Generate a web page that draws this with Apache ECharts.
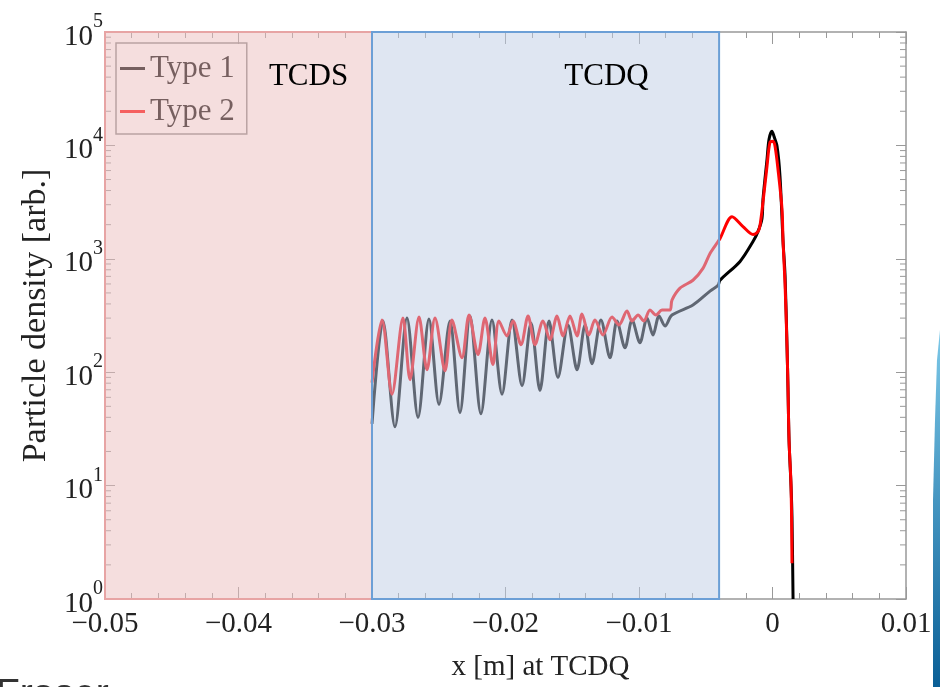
<!DOCTYPE html>
<html>
<head>
<meta charset="utf-8">
<script src="https://cdn.jsdelivr.net/npm/echarts@6/dist/echarts.min.js"></script>
<style>
  html, body { margin: 0; padding: 0; background: #fff; }
  #chart { width: 940px; height: 687px; }
</style>
</head>
<body>
<div id="chart"></div>
<script>
// Type 1 histogram (x in m, density in arb. units)
const type1X = [-0.0300, -0.02918, -0.02828, -0.02738, -0.02655, -0.02573, -0.02498, -0.02416, -0.02341, -0.02266,
  -0.02184, -0.02101, -0.02026, -0.01951, -0.01876, -0.01809, -0.01742, -0.01674, -0.01607, -0.01532,
  -0.01464, -0.01404, -0.01352, -0.01285, -0.01217, -0.01165, -0.01105, -0.01052, -0.00993, -0.00940,
  -0.00895, -0.00850, -0.00805, -0.00753, -0.00596, -0.00468, -0.00408, -0.00393, -0.00243, -0.00146,
  -0.00109, -0.00079, -0.00071, -0.00041, -0.00026, -0.00004, 0.00011, 0.00034, 0.00056, 0.00079,
  0.00094, 0.00109, 0.00116, 0.00124, 0.00139, 0.00146, 0.00154]
const type1Y = [35, 283, 33, 301, 40, 295, 52, 283, 44, 313,
  43, 289, 64, 289, 76, 272, 69, 283, 90, 261,
  105, 261, 119, 289, 134, 283, 164, 289, 182, 301,
  213, 313, 256, 319, 391, 519, 585, 647, 948, 1420,
  1738, 2258, 3380, 7568, 11330, 13310, 12040, 9840, 5375, 1420,
  716, 164, 73, 25, 9.8, 5.3, 1]

// Type 2 histogram
const type2X = [-0.0300, -0.02925, -0.02850, -0.02768, -0.02715, -0.02648, -0.02588, -0.02528, -0.02453, -0.02401,
  -0.02326, -0.02273, -0.02206, -0.02154, -0.02094, -0.02049, -0.01989, -0.01944, -0.01884, -0.01831,
  -0.01779, -0.01719, -0.01667, -0.01614, -0.01569, -0.01517, -0.01464, -0.01427, -0.01375, -0.01330,
  -0.01270, -0.01202, -0.01150, -0.01090, -0.01052, -0.01007, -0.00963, -0.00918, -0.00873, -0.00828,
  -0.00768, -0.00753, -0.00693, -0.00596, -0.00521, -0.00468, -0.00408, -0.00393, -0.00303, -0.00221,
  -0.00146, -0.00109, -0.00094, -0.00071, -0.00041, -0.00019, 0.00004, 0.00019, 0.00041, 0.00071,
  0.00079, 0.00094, 0.00109, 0.00116, 0.00124, 0.00139, 0.00146]
const type2Y = [81, 289, 64, 301, 86, 307, 105, 301, 103, 289,
  134, 319, 143, 301, 117, 283, 209, 283, 175, 313,
  175, 283, 193, 313, 209, 313, 209, 326, 213, 289,
  213, 307, 261, 346, 283, 319, 283, 353, 319, 353,
  353, 432, 551, 647, 824, 1114, 1420, 1510, 2350, 1922,
  1636, 1738, 1960, 3184, 6577, 10660, 10880, 9840, 6194, 2763,
  1420, 600, 164, 73, 25, 9.8, 2.07]

// collimator regions
const regionNames = ['TCDS', 'TCDQ']
const regionStart = [-0.05, -0.03]
const regionEnd = [-0.03, -0.004]

const xMin = -0.05, xMax = 0.01
const yMin = 1, yMax = 100000
const FONT = 'Liberation Serif'

const regionFill = ['rgba(235,189,189,0.5)', 'rgba(191,205,229,0.5)']
const regionBorder = ['#e7a4a4', '#6c9fd6']
const regionLabelOffset = [[70, 25], [61, 25]]

const pairs = (xs, ys) => xs.map((x, i) => [x, ys[i]])

// log minor ticks 2..9 in each decade (left and right frame)
const minorLogTicks = []
for (let d = 0; d < 5; d++) {
  for (let k = 2; k <= 9; k++) minorLogTicks.push([xMin, k * Math.pow(10, d)])
}

const chart = echarts.init(document.getElementById('chart'))

const frameAxisLine = { show: true, onZero: false, lineStyle: { color: '#999', width: 1.5 } }
const tickStyle = { color: '#999', width: 1 }

chart.setOption({
  animation: false,
  backgroundColor: '#fff',
  grid: { left: 105, right: 34, top: 32, bottom: 84 },
  legend: {
    data: ['Type 1', 'Type 2'],
    orient: 'vertical',
    left: 116,
    top: 43,
    padding: [10, 12, 7, 4],
    itemGap: 12,
    itemWidth: 25,
    itemHeight: 3,
    icon: 'rect',
    borderColor: '#888',
    borderWidth: 1.5,
    z: 4,
    textStyle: { fontFamily: FONT, fontSize: 31, color: '#000' }
  },
  xAxis: [
    {
      type: 'value',
      min: xMin,
      max: xMax,
      interval: 0.01,
      position: 'bottom',
      axisLine: frameAxisLine,
      axisTick: { inside: true, length: 12, lineStyle: tickStyle },
      minorTick: { show: true, splitNumber: 5, length: 6, lineStyle: tickStyle },
      splitLine: { show: false },
      axisLabel: {
        margin: 11,
        fontFamily: FONT,
        fontSize: 29,
        color: '#222',
        formatter: v => Math.abs(v) < 1e-9 ? '0' : (v < 0 ? '\u2212' : '') + Math.abs(v).toFixed(2)
      },
      name: 'x [m] at TCDQ',
      nameLocation: 'middle',
      nameGap: 54,
      nameTextStyle: { fontFamily: FONT, fontSize: 29, color: '#222', padding: [0, 0, 0, 70] }
    },
    {
      type: 'value',
      min: xMin,
      max: xMax,
      interval: 0.01,
      position: 'top',
      axisLine: frameAxisLine,
      axisTick: { inside: true, length: 12, lineStyle: tickStyle },
      minorTick: { show: true, splitNumber: 5, length: 6, lineStyle: tickStyle },
      splitLine: { show: false },
      axisLabel: { show: false }
    }
  ],
  yAxis: [
    {
      type: 'log',
      logBase: 10,
      min: yMin,
      max: yMax,
      position: 'left',
      axisLine: frameAxisLine,
      axisTick: { inside: true, length: 10, lineStyle: tickStyle },
      splitLine: { show: false },
      axisLabel: {
        margin: 2,
        padding: [10, 0, 0, 0],
        formatter: v => '{b|10}{s|' + Math.round(Math.log10(v)) + '}',
        rich: {
          b: { fontFamily: FONT, fontSize: 29, lineHeight: 29, color: '#222' },
          s: { fontFamily: FONT, fontSize: 20, lineHeight: 20, color: '#222', padding: [0, 0, 30, 0] }
        }
      },
      name: 'Particle density [arb.]',
      nameLocation: 'middle',
      nameGap: 52,
      nameTextStyle: { fontFamily: FONT, fontSize: 34, color: '#222' }
    },
    {
      type: 'log',
      logBase: 10,
      min: yMin,
      max: yMax,
      position: 'right',
      axisLine: frameAxisLine,
      axisTick: { inside: true, length: 10, lineStyle: tickStyle },
      splitLine: { show: false },
      axisLabel: { show: false }
    }
  ],
  series: [
    {
      type: 'custom',
      silent: true,
      z: 3,
      data: minorLogTicks,
      renderItem: (params, api) => {
        const v = api.value(1)
        const l = api.coord([xMin, v])
        const r = api.coord([xMax, v])
        return {
          type: 'group',
          children: [
            { type: 'line', shape: { x1: l[0], y1: l[1], x2: l[0] + 6, y2: l[1] }, style: { stroke: '#999', lineWidth: 1 } },
            { type: 'line', shape: { x1: r[0] - 6, y1: r[1], x2: r[0], y2: r[1] }, style: { stroke: '#999', lineWidth: 1 } }
          ]
        }
      }
    },
    {
      name: 'Type 1',
      type: 'line',
      data: pairs(type1X, type1Y),
      showSymbol: false,
      smooth: 0.3,
      color: '#000',
      lineStyle: { color: '#000', width: 3 },
      z: 2
    },
    {
      name: 'Type 2',
      type: 'line',
      data: pairs(type2X, type2Y),
      showSymbol: false,
      smooth: 0.3,
      color: '#ff0000',
      lineStyle: { color: '#ff0000', width: 3 },
      z: 2
    },
    {
      // translucent regions drawn over the curves
      type: 'line',
      data: [],
      z: 10,
      markArea: {
        silent: true,
        z: 10,
        label: {
          show: true,
          position: 'insideTop',
          fontFamily: FONT,
          fontSize: 31,
          color: '#000'
        },
        data: regionNames.map((n, i) => [
          {
            name: n,
            xAxis: regionStart[i],
            yAxis: yMin,
            itemStyle: { color: regionFill[i], borderColor: regionBorder[i], borderWidth: 2 },
            label: { offset: regionLabelOffset[i] }
          },
          { xAxis: regionEnd[i], yAxis: yMax }
        ])
      }
    }
  ],
  graphic: [
    {
      type: 'text',
      left: -4,
      top: 676,
      style: { text: 'Fraser', font: '39px "Liberation Sans"', fill: '#333' }
    },
    {
      type: 'polygon',
      shape: { points: [[940, 330], [937, 360], [935, 420], [933, 500], [933, 687], [940, 687]] },
      style: {
        fill: new echarts.graphic.LinearGradient(0, 0, 0, 1, [
          { offset: 0, color: '#7cc8e8' },
          { offset: 1, color: '#0a5f96' }
        ])
      }
    }
  ]
})
</script>
</body>
</html>
